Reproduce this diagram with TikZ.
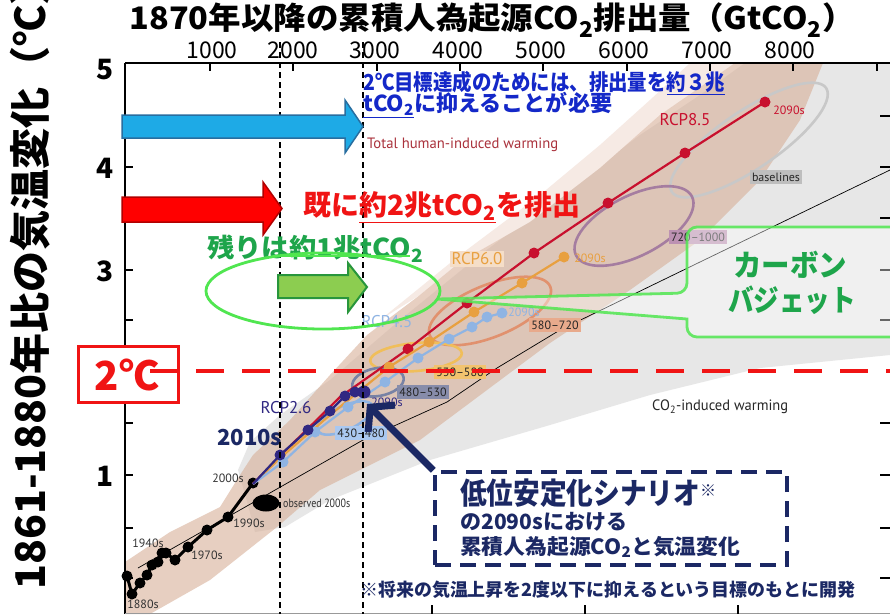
\documentclass[tikz,border=0pt]{standalone}
\usepackage{fontspec}
\usepackage{graphicx}
\setmainfont{Noto Sans CJK JP}
\newfontfamily\lab{PT Sans}
\usetikzlibrary{arrows.meta}
\definecolor{navy}{RGB}{27,40,100}
\definecolor{tblue}{RGB}{20,40,200}
\definecolor{tred}{RGB}{240,20,20}
\definecolor{tgreen}{RGB}{30,165,75}
\definecolor{bgreen}{RGB}{80,230,80}
\definecolor{r85}{RGB}{200,16,46}
\definecolor{r60}{RGB}{232,160,64}
\definecolor{r45}{RGB}{143,180,227}
\definecolor{r26}{RGB}{48,40,130}
\definecolor{tanc}{RGB}{215,175,152}
\definecolor{pinkc}{RGB}{246,234,228}
\definecolor{plgray}{RGB}{231,231,231}
\definecolor{arblue}{RGB}{30,170,230}
\definecolor{arblueo}{RGB}{40,110,160}
\definecolor{argreen}{RGB}{140,205,80}
\definecolor{argreeno}{RGB}{40,150,60}
\definecolor{labred}{RGB}{170,50,60}
\definecolor{elgray}{RGB}{200,200,200}
\definecolor{elpurp}{RGB}{165,125,160}
\definecolor{elsalm}{RGB}{225,145,110}
\definecolor{elyell}{RGB}{240,190,90}
\definecolor{elgblue}{RGB}{120,130,165}
\definecolor{bggray}{RGB}{190,190,190}
\definecolor{bgpurp}{RGB}{188,145,178}
\definecolor{bgsalm}{RGB}{232,170,140}
\definecolor{bgyell}{RGB}{242,195,110}
\definecolor{bggblue}{RGB}{135,140,170}
\definecolor{bglblue}{RGB}{170,200,240}
\definecolor{bgrcp6}{RGB}{245,222,200}
\newcommand{\fw}[2]{\resizebox{#1pt}{\height}{#2}}
\newcommand{\fs}[1]{\fontsize{#1}{#1}\selectfont}
\begin{document}
\begin{tikzpicture}[x=1pt,y=-1pt,
  smalllab/.style={font=\lab\fs{12}, text=black!80, inner sep=0pt},
  rangelab/.style={font=\lab\fs{12}, text=black!85, inner sep=2pt, minimum height=14pt},
  tickl/.style={font=\bfseries\fs{28}, inner sep=0pt},
  xl/.style={font=\fs{23}, inner sep=0pt},
  rcp/.style={line width=2.2pt},
  ell/.style={line width=2.6pt},
  vdash/.style={line width=1.4pt, dash pattern=on 6pt off 4pt},
  blockarrow/.style={line width=1.5pt}
]
\useasboundingbox (0,0) rectangle (890,614);
\fill[white] (0,0) rectangle (890,614);

% ---------- plumes ----------
\begin{scope}
\clip (125,63) rectangle (890,614);
\fill[plgray] (248,505) -- (238,470) -- (250,442) -- (280,415) -- (330,380) -- (400,320) -- (480,255) -- (560,195) -- (640,135) -- (700,95) -- (745,63) -- (890,63) -- (890,355) -- (760,368) -- (650,395) -- (550,425) -- (430,460) -- (330,500) -- (285,527) -- (255,532) -- cycle;
\fill[pinkc] (380,320) -- (460,255) -- (540,195) -- (600,145) -- (650,100) -- (690,63) -- (735,63) -- (660,115) -- (600,168) -- (530,222) -- (460,262) -- (420,295) -- cycle;
\fill[tanc, opacity=0.6] (125,562) -- (170,532) -- (220,507) -- (240,475) -- (253,455) -- (290,420) -- (330,375) -- (367,335) -- (420,295) -- (460,262) -- (530,222) -- (600,168) -- (660,115) -- (735,63) -- (823,63) -- (800,120) -- (760,180) -- (700,240) -- (630,290) -- (550,343) -- (420,440) -- (320,490) -- (277,527) -- (210,580) -- (150,614) -- (125,614) -- cycle;
\end{scope}

% ---------- frame and ticks ----------
\draw[line width=1.8pt] (125,63) -- (890,63);
\draw[line width=1.8pt] (125,63) -- (125,614);
\draw[line width=0.8pt, black!40] (125,613) -- (890,613);
\foreach \xx in {210,293,377,460,543,627,710,793,877} \draw[line width=1.2pt] (\xx,63) -- (\xx,71);
\foreach \yy in {116,167,218,270,320,423,475,528,578} \draw[line width=1.2pt] (125,\yy) -- (133,\yy);
\foreach \yy in {116,167,218,270,320,423,475,528,578} \draw[line width=1.2pt] (880,\yy) -- (890,\yy);
\foreach \xx in {432,585,738} \draw[line width=1.2pt] (\xx,605) -- (\xx,614);

% ---------- central CO2 line ----------
\draw[line width=0.7pt] (138,568) -- (363,440) -- (447,402) -- (497,368) -- (560,330) -- (700,262) -- (890,170);

% ---------- range ellipses ----------
\draw[ell, elgray] (749,140) ellipse [x radius=93, y radius=29, rotate=34];
\draw[ell, elpurp] (634,226) ellipse [x radius=65, y radius=30, rotate=27];
\draw[ell, elsalm] (490,311) ellipse [x radius=65, y radius=26, rotate=22];
\draw[ell, elyell] (416,357) ellipse [x radius=46, y radius=14, rotate=5];
\draw[ell, elgblue] (378,382) ellipse [x radius=26, y radius=14, rotate=10];
\draw[ell, r45] (345,418) ellipse [x radius=30, y radius=12, rotate=25];

% ---------- range labels ----------
\node[rangelab, fill=bggray] (lbase) at (776,177) {baselines};
\node[rangelab, fill=bgpurp] (l720) at (698,237) {720–1000};
\node[rangelab, fill=bgsalm] (l580) at (555,325) {580–720};
\node[rangelab, fill=bgyell] (l530) at (460,372) {530–580};
\node[rangelab, fill=bggblue] (l480) at (423,392) {480–530};
\node[rangelab, fill=bglblue] (l430) at (361,433) {430–480};

% ---------- observed ----------
\fill (266,503) ellipse [x radius=13.5, y radius=8.5];
\draw[line width=3pt, line join=round] (127,576) -- (132,594) -- (140,583) -- (147,575) -- (152,565) -- (158,562) -- (162,553) -- (166,553) -- (175,560) -- (188,547) -- (207,530) -- (228,517) -- (253,483);
\foreach \p in {(127,576),(132,594),(140,583),(147,575),(152,565),(158,562),(162,553),(166,553),(175,560),(188,547),(207,530),(228,517),(253,483)} \fill \p circle (5.5);

% ---------- RCP lines ----------
\draw[rcp, r85] (253,484) -- (280,456) -- (340,397) -- (408,349) -- (467,303) -- (534,253) -- (608,203) -- (685,153) -- (765,102);
\foreach \p in {(408,349),(467,303),(534,253),(608,203),(685,153),(765,102)} \fill[r85] \p circle (5.5);
\draw[rcp, r60] (253,484) -- (280,458) -- (330,415) -- (389,367) -- (429,342) -- (474,312) -- (522,283) -- (564,257);
\foreach \p in {(389,367),(429,342),(474,312),(522,283),(564,257)} \fill[r60] \p circle (5.5);
\draw[rcp, r45] (253,484) -- (283,462) -- (315,432) -- (348,407) -- (385,382) -- (418,358) -- (449,339) -- (472,327) -- (487,317) -- (502,313);
\foreach \p in {(283,462),(315,432),(348,407),(385,382),(418,358),(449,339),(472,327),(487,317),(502,313)} \fill[r45] \p circle (5.5);
\draw[rcp, r26] (253,484) -- (280,455) -- (308,430) -- (330,411) -- (345,396) -- (355,392) -- (364,392);
\foreach \p in {(280,455),(308,430),(330,411),(345,396),(355,392)} \fill[r26] \p circle (5.5);
\fill[r26] (364,392) circle (6.5);

% ---------- small labels ----------
\node[smalllab, text=r85] (t85) at (789,110) {2090s};
\node[smalllab, text=r60] (t60) at (590,258) {2090s};
\node[smalllab, text=r45] (t45) at (524,312) {2090s};
\node[smalllab, text=r26] (t26) at (387,402) {2090s};
\node[font=\lab\fs{17}, text=r85, inner sep=0] (n85) at (685,120) {RCP8.5};
\node[font=\lab\fs{17}, text=r60, fill=bgrcp6, inner sep=2pt] (n60) at (477,259) {RCP6.0};
\node[font=\lab\fs{17}, text=r45, inner sep=0] (n45) at (387,322) {RCP4.5};
\node[font=\lab\fs{17}, text=r26, inner sep=0] (n26) at (286,408) {RCP2.6};
\node[smalllab] (y2000) at (228,478) {2000s};
\node[smalllab] (y1990) at (249,523) {1990s};
\node[smalllab] (y1970) at (207,555) {1970s};
\node[smalllab] (y1940) at (148,543) {1940s};
\node[smalllab] (y1880) at (143,604) {1880s};
\node[smalllab, anchor=west] (obs) at (283,503) {\fw{67}{observed 2000s}};
\node[font=\lab\fs{15}, text=labred, anchor=west, inner sep=0] (thw) at (367,145) {\fw{191}{Total human-induced warming}};
\node[font=\lab\fs{15}, text=black!85, anchor=west, inner sep=0] (ciw) at (652,407) {\fw{136}{CO\textsubscript{2}-induced warming}};
\node[font=\bfseries\fs{22}, text=navy, anchor=west, inner sep=0] (y2010) at (217,438) {\fw{65}{2010s}};

% ---------- 2C line and vertical dashed lines ----------
\draw[vdash] (280,42) -- (280,614);
\draw[vdash] (363,42) -- (363,614);
\draw[tred, line width=4.5pt, dash pattern=on 28pt off 18pt] (150,371) -- (890,371);
\node[draw=tred, fill=white, line width=3pt, minimum width=100pt, minimum height=56pt, inner sep=0] (twoc) at (128,374) {};
\node[font=\bfseries\fs{40}, text=tred, inner sep=0] (twoct) at (127,375) {2℃};
\draw[tred, line width=4.5pt] (150,371) -- (178,371);

% ---------- block arrows ----------
\filldraw[arblue, draw=arblueo, blockarrow] (122,115) -- (345,115) -- (345,100) -- (363,126.5) -- (345,153) -- (345,138) -- (122,138) -- cycle;
\filldraw[red, draw=red!70!black, blockarrow] (122,197) -- (263,197) -- (263,182) -- (282,208.5) -- (263,235) -- (263,222) -- (122,222) -- cycle;
\filldraw[argreen, draw=argreeno, line width=2pt] (278,275) -- (348,275) -- (348,263) -- (367,287) -- (348,312) -- (348,298) -- (278,298) -- cycle;

% ---------- big texts ----------
\node[font=\bfseries\fs{22}, text=tblue, anchor=west, inner sep=0] (goal1) at (363,83) {\fw{362}{2℃目標達成のためには、排出量を\underline{約３兆}}};
\node[font=\bfseries\fs{22}, text=tblue, anchor=west, inner sep=0] (goal2) at (363,105) {\fw{249}{\underline{tCO\textsubscript{2}}に抑えることが必要}};
\node[font=\bfseries\fs{28}, text=tred, anchor=west, inner sep=0] (emit) at (303,207) {\fw{277}{既に\underline{約2兆tCO\textsubscript{2}}を排出}};
\node[font=\bfseries\fs{26}, text=tgreen, anchor=west, inner sep=0] (rest) at (207,249) {\fw{216}{残りは約1兆tCO\textsubscript{2}}};
\draw[bgreen, line width=2.5pt] (282,256) -- (410,256);

% ---------- green ellipse and callout ----------
\draw[bgreen, line width=2.8pt] (323,291) ellipse [x radius=117, y radius=38];
\filldraw[fill=white, fill opacity=0.4, draw=bgreen, draw opacity=0.85, line width=2.8pt, rounded corners=10pt] (900,227) -- (687,227) -- (687,293) [sharp corners] -- (437,299) -- (687,319) [rounded corners=10pt] -- (687,337) -- (900,337);
\node[font=\bfseries\fs{30}, text=tgreen, inner sep=0] (cb1) at (790,265) {\fw{114}{カーボン}};
\node[font=\bfseries\fs{30}, text=tgreen, inner sep=0] (cb2) at (792,300) {\fw{128}{バジェット}};

% ---------- low-stabilisation box ----------
\node[draw=navy, line width=3.5pt, dash pattern=on 16pt off 9pt, minimum width=352pt, minimum height=93pt, inner sep=0] (lowbox) at (611,518.5) {};
\coordinate (tip) at (367,404);
\draw[navy, line width=7pt, -{Straight Barb[length=16pt, width=38pt]}] (lowbox.north west) -- (tip);
\node[font=\bfseries\fs{30}, text=navy, anchor=west, inner sep=0] (low1) at (460,493) {\fw{240}{低位安定化シナリオ}\raisebox{8pt}{\fs{16}※}};
\node[font=\bfseries\fs{21}, text=navy, anchor=west, inner sep=0] (low2) at (460,522) {\fw{167}{の2090sにおける}};
\node[font=\bfseries\fs{21}, text=navy, anchor=west, inner sep=0] (low3) at (460,547) {\fw{280}{累積人為起源CO\textsubscript{2}と気温変化}};
\node[font=\bfseries\fs{18}, text=navy, anchor=west, inner sep=0] (foot) at (360,590) {\fw{495}{※将来の気温上昇を2度以下に抑えるという目標のもとに開発}};

% ---------- axis labels ----------
\node[font=\bfseries\fs{31}, inner sep=0] (title) at (492,20) {\fw{725}{1870年以降の累積人為起源CO\textsubscript{2}排出量（GtCO\textsubscript{2}）}};
\node[xl] (x1) at (212,50) {1000};
\node[xl] (x2) at (293,50) {2000};
\node[xl] (x3) at (375,50) {3000};
\node[xl] (x4) at (458,50) {4000};
\node[xl] (x5) at (541,50) {5000};
\node[xl] (x6) at (624,50) {6000};
\node[xl] (x7) at (707,50) {7000};
\node[xl] (x8) at (790,50) {8000};
\node[tickl] (t5) at (105,70) {5};
\node[tickl] (t4) at (105,168) {4};
\node[tickl] (t3) at (105,271) {3};
\node[tickl] (t1) at (105,476) {1};
\node[font=\bfseries\fs{41}, rotate=90, anchor=west, inner sep=0] (ytitle) at (30,590) {1861-1880年比の気温変化（℃）};
\end{tikzpicture}
\end{document}
